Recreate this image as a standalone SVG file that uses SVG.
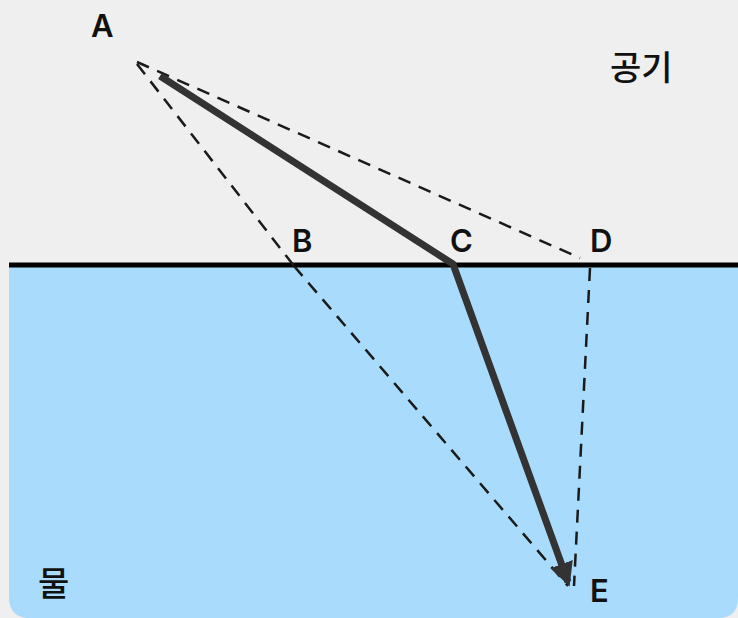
<svg xmlns="http://www.w3.org/2000/svg" width="738" height="618" viewBox="0 0 738 618">
<style>
.lbl{font-family:"Inter","Noto Sans","Liberation Sans",sans-serif;font-size:31px;font-weight:600;fill:#111;}
.kr{font-family:"Noto Sans CJK KR","Noto Sans",sans-serif;font-size:34px;font-weight:500;fill:#111;}
.dash{fill:none;stroke:#1a1a1a;stroke-width:2.5;stroke-dasharray:13 9;}
.ray{fill:none;stroke:#333;stroke-width:7;stroke-linejoin:round;}
</style>
<defs>
<marker id="ah" viewBox="0 0 10 10" refX="8" refY="5" markerWidth="3.4" markerHeight="3.4" orient="auto" markerUnits="strokeWidth">
<path d="M0,0 L10,5 L0,10 Z" fill="#333"/>
</marker>
</defs>
<rect x="0" y="0" width="738" height="618" fill="#efefef"/>
<g id="water">
<path d="M9,266 H738 V598 Q738,618 718,618 H30 Q9,618 9,597 Z" fill="#a9dbfc"/>
<line x1="9" y1="265" x2="738" y2="265" stroke="#000" stroke-width="5"/>
</g>
<g id="connectors">
<line class="dash" x1="137" y1="62" x2="580" y2="258"/>
<line class="dash" x1="137" y1="64" x2="294" y2="266"/>
<line class="dash" x1="294" y1="266" x2="568" y2="586"/>
<line class="dash" x1="590" y1="268" x2="574" y2="586"/>
<polyline class="ray" points="160,76 453,264 568,582" marker-end="url(#ah)"/>
</g>
<g id="A"><text class="lbl" x="91" y="37">A</text></g>
<g id="B"><text class="lbl" x="292" y="252">B</text></g>
<g id="C"><text class="lbl" x="450" y="252">C</text></g>
<g id="D"><text class="lbl" x="590" y="252">D</text></g>
<g id="E"><text class="lbl" x="590" y="602">E</text></g>
<g id="air"><text class="kr" x="610" y="80">공기</text></g>
<g id="mul"><text class="kr" x="38" y="596">물</text></g>
</svg>
